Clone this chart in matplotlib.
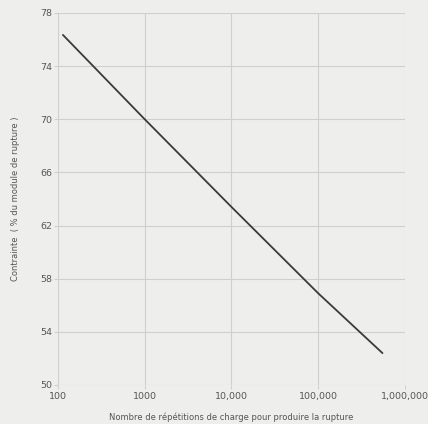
import matplotlib.pyplot as plt
import matplotlib.ticker as mticker

# courbe de fatigue
repetitions = [114, 1000, 10000, 100000, 550000]
contrainte = [76.35, 70.0, 63.4, 56.9, 52.4]

x_ticks = [100, 1000, 10000, 100000, 1000000]
x_labels = ['100', '1000', '10,000', '100,000', '1,000,000']
y_ticks = [50, 54, 58, 62, 66, 70, 74, 78]

bg = '#eeeeec'
grid_col = '#cfcfcd'
txt = '#555555'

fig = plt.figure(figsize=(4.28, 4.24), dpi=100, facecolor=bg)
ax = fig.add_axes([58 / 428, 1 - 385 / 424, (405 - 58) / 428, (385 - 13) / 424])
ax.set_facecolor(bg)

ax.plot(repetitions, contrainte, color='#3a3a3a', lw=1.3, solid_capstyle='round')

ax.set_xscale('log')
ax.set_xlim(100, 1000000)
ax.set_ylim(50, 78)
ax.set_xticks(x_ticks)
ax.set_xticklabels(x_labels)
ax.xaxis.set_minor_locator(mticker.NullLocator())
ax.set_yticks(y_ticks)
ax.grid(True, color=grid_col, lw=0.8)
for s in ax.spines.values():
    s.set_visible(False)
ax.tick_params(axis='both', length=3, color=grid_col, labelsize=6.8, labelcolor=txt, width=0.8)
ax.tick_params(axis='x', pad=2)
ax.tick_params(axis='y', pad=1)

ax.set_xlabel('Nombre de répétitions de charge pour produire la rupture',
              fontsize=6, color=txt, labelpad=8)
ax.set_ylabel('Contrainte  ( % du module de rupture )', fontsize=6, color=txt, labelpad=15)

fig.savefig('out.png', dpi=100, facecolor=bg)
